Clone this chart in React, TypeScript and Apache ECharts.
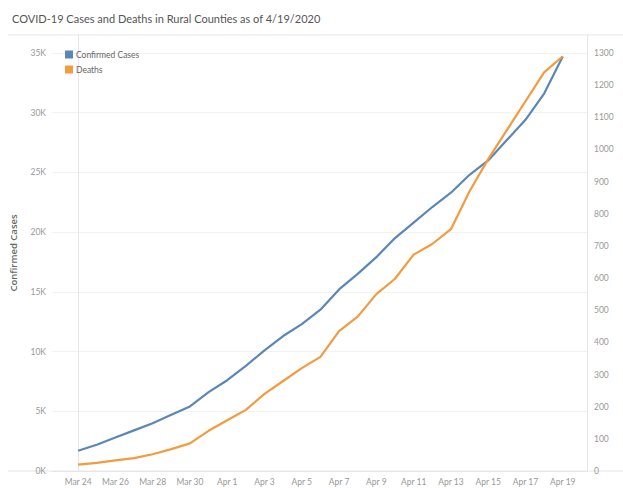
import React, { useEffect, useRef } from "react";
import * as echarts from "echarts";

const dates = [
  "Mar 24", "Mar 25", "Mar 26", "Mar 27", "Mar 28", "Mar 29", "Mar 30", "Mar 31",
  "Apr 1", "Apr 2", "Apr 3", "Apr 4", "Apr 5", "Apr 6", "Apr 7", "Apr 8", "Apr 9",
  "Apr 10", "Apr 11", "Apr 12", "Apr 13", "Apr 14", "Apr 15", "Apr 16", "Apr 17",
  "Apr 18", "Apr 19",
];
const confirmedCases = [
  1700, 2200, 2800, 3400, 4000, 4700, 5400, 6600, 7600, 8800, 10100, 11300, 12300,
  13500, 15200, 16500, 17900, 19500, 20800, 22100, 23300, 24800, 26000, 27700,
  29400, 31600, 34700,
];
const deaths = [
  20, 25, 33, 40, 52, 68, 86, 125, 158, 190, 240, 280, 320, 355, 435, 480, 550,
  598, 673, 706, 752, 870, 970, 1060, 1150, 1240, 1290,
];
const xTickLabels = [
  "Mar 24", "Mar 26", "Mar 28", "Mar 30", "Apr 1", "Apr 3", "Apr 5", "Apr 7",
  "Apr 9", "Apr 11", "Apr 13", "Apr 15", "Apr 17", "Apr 19",
];

const FONT = "Lato, 'Open Sans', sans-serif";
const BLUE = "#5b87b8";
const ORANGE = "#f29b3f";

export default function App() {
  const ref = useRef<HTMLDivElement>(null);
  useEffect(() => {
    document.body.style.margin = "0";
    if (!ref.current) return;
    const chart = echarts.init(ref.current, null, { renderer: "svg" });
    const tickIdx = xTickLabels.map((l) => dates.indexOf(l));
    chart.setOption({
      animation: false,
      backgroundColor: "#ffffff",
      textStyle: { fontFamily: FONT },
      title: {
        text: "COVID-19 Cases and Deaths in Rural Counties as of 4/19/2020",
        left: 7,
        top: 8,
        textStyle: { fontSize: 11, fontWeight: "normal", color: "#555", fontFamily: FONT },
      },
      legend: {
        data: ["Confirmed Cases", "Deaths"],
        orient: "vertical",
        left: 60,
        top: 45,
        icon: "rect",
        itemWidth: 8,
        itemHeight: 8,
        itemGap: 6,
        textStyle: { fontSize: 8.5, color: "#666", padding: [0, 0, 0, -2] },
      },
      grid: { left: 52, right: 36, top: 35, bottom: 17, containLabel: false, outerBoundsMode: "none" },
      graphic: [
        { type: "line", shape: { x1: 8, y1: 35, x2: 623, y2: 35 }, style: { stroke: "#e6e6e6", lineWidth: 1 } },
        { type: "line", shape: { x1: 8, y1: 471, x2: 623, y2: 471 }, style: { stroke: "#e6e6e6", lineWidth: 1 } },
      ],
      xAxis: {
        type: "value",
        min: -1.4,
        max: 27.3,
        axisLine: { show: true, lineStyle: { color: "#e6e6e6" } },
        axisTick: { show: false },
        splitLine: { show: false },
        axisLabel: {
          customValues: tickIdx,
          formatter: (v: number) => dates[Math.round(v)],
          fontSize: 8.5,
          color: "#999",
          margin: 6,
        },
      },
      yAxis: [
        {
          type: "value",
          name: "Confirmed Cases",
          nameLocation: "middle",
          nameGap: 34,
          nameMoveOverlap: false,
          nameTextStyle: { fontSize: 9.5, fontWeight: 600, color: "#666", fontFamily: "'Open Sans', sans-serif" },
          min: 0,
          max: 36500,
          interval: 5000,
          axisLine: { show: true, lineStyle: { color: "#e6e6e6" } },
          axisTick: { show: false },
          splitLine: { show: true, lineStyle: { color: "#f2f2f2" } },
          axisLabel: {
            fontSize: 8.5,
            color: "#999",
            margin: 6,
            showMaxLabel: false,
            formatter: (v: number) => `${Math.round(v / 1000)}K`,
          },
        },
        {
          type: "value",
          name: "Deaths",
          nameLocation: "middle",
          nameGap: 37,
          nameMoveOverlap: false,
          nameTextStyle: { fontSize: 9.5, fontWeight: 600, color: "#666", fontFamily: "'Open Sans', sans-serif" },
          min: 0,
          max: 1356,
          interval: 100,
          position: "right",
          axisLine: { show: true, lineStyle: { color: "#e6e6e6" } },
          axisTick: { show: false },
          splitLine: { show: false },
          axisLabel: {
            fontSize: 8.5,
            color: "#999",
            margin: 7,
            showMaxLabel: false,
            formatter: (v: number) => String(v),
          },
        },
      ],
      series: [
        {
          name: "Confirmed Cases",
          type: "line",
          yAxisIndex: 0,
          data: confirmedCases.map((v, i) => [i, v]),
          showSymbol: false,
          symbol: "none",
          lineStyle: { color: BLUE, width: 2.2 },
          itemStyle: { color: BLUE },
        },
        {
          name: "Deaths",
          type: "line",
          yAxisIndex: 1,
          data: deaths.map((v, i) => [i, v]),
          showSymbol: false,
          symbol: "none",
          lineStyle: { color: ORANGE, width: 2.2 },
          itemStyle: { color: ORANGE },
        },
      ],
    });
    return () => chart.dispose();
  }, []);
  return <div ref={ref} style={{ width: 623, height: 488 }} />;
}
